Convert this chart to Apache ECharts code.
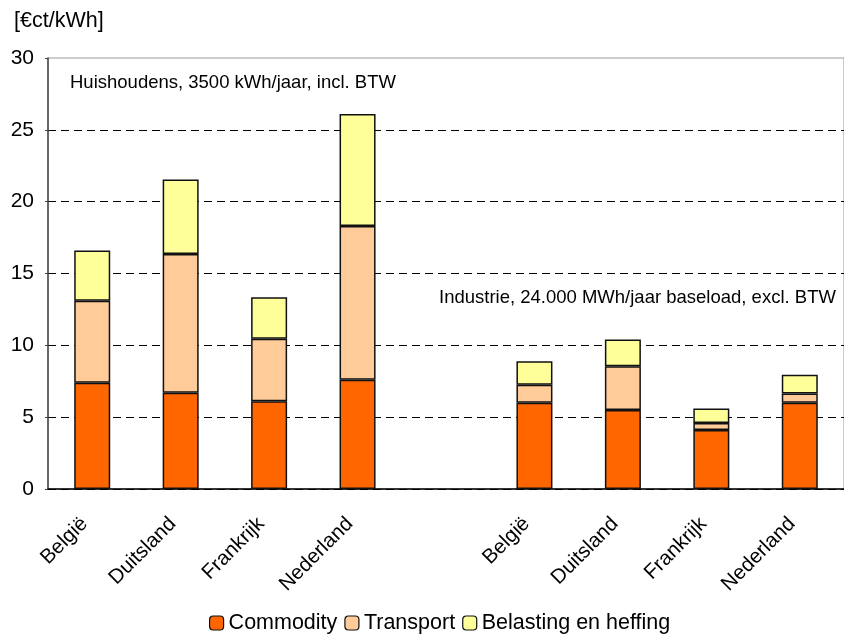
<!DOCTYPE html>
<html>
<head>
<meta charset="utf-8">
<script src="https://cdn.jsdelivr.net/npm/echarts@6/dist/echarts.min.js"></script>
<style>html,body{margin:0;padding:0;background:#fff}#c{width:844px;height:635px}</style>
</head>
<body>
<div id="c"></div>
<script>
const categories = ['België', 'Duitsland', 'Frankrijk', 'Nederland', '', 'België', 'Duitsland', 'Frankrijk', 'Nederland'];
const commodity = [7.4, 6.7, 6.1, 7.6, null, 6.0, 5.5, 4.1, 6.0];
const transport = [5.7, 9.65, 4.35, 10.7, null, 1.25, 3.05, 0.5, 0.65];
const belasting = [3.5, 5.2, 2.9, 7.8, null, 1.65, 1.85, 1.0, 1.3];
const seriesNames = ['Commodity', 'Transport', 'Belasting en heffing'];
const yTicks = { min: 0, max: 30, interval: 5 };
const unitLabel = '[€ct/kWh]';
const noteHouse = 'Huishoudens, 3500 kWh/jaar, incl. BTW';
const noteIndustry = 'Industrie, 24.000 MWh/jaar baseload, excl. BTW';

const font = 'Liberation Sans, Arial, sans-serif';
const colors = ['#FF6600', '#FFCC99', '#FFFF99'];
const chart = echarts.init(document.getElementById('c'));
const mk = (name, data, i) => ({
  name, type: 'bar', stack: 'a', data, barWidth: 36,
  itemStyle: { color: colors[i], borderColor: '#111', borderWidth: 1.5 },
  emphasis: { disabled: true }
});
chart.setOption({
  animation: false,
  textStyle: { fontFamily: font },
  grid: { left: 48, top: 58, width: 804, height: 431, show: true, borderColor: '#999', borderWidth: 1, containLabel: false },
  legend: {
    top: 607, left: 204, itemWidth: 14, itemHeight: 14, itemGap: 7,
    textStyle: { fontSize: 21.5, color: '#000', fontFamily: font, padding: [0, 0, 0, 0] },
    data: seriesNames.map((n, i) => ({ name: n, itemStyle: { color: colors[i], borderColor: '#111', borderWidth: 1.2 } }))
  },
  xAxis: {
    type: 'category', data: categories,
    axisLine: { lineStyle: { color: '#000', width: 1.5 } },
    axisTick: { inside: true, length: 6, lineStyle: { color: '#777' } },
    axisLabel: { rotate: 45, fontSize: 20.5, color: '#000', margin: 24, padding: [0, 11, 0, 0], interval: 0, fontFamily: font }
  },
  yAxis: {
    type: 'value', min: yTicks.min, max: yTicks.max, interval: yTicks.interval,
    axisLine: { show: true, lineStyle: { color: '#444', width: 1.5 } },
    axisTick: { show: true, length: 3, lineStyle: { color: '#444' } },
    axisLabel: { fontSize: 21, color: '#000', margin: 14, fontFamily: font },
    splitLine: { show: true, showMaxLine: false, lineStyle: { color: '#000', type: [8, 5], width: 1 } }
  },
  graphic: [
    { type: 'text', left: 14, top: 10, style: { text: unitLabel, fontSize: 21.5, fill: '#000', fontFamily: font } },
    { type: 'text', left: 70, top: 73, style: { text: noteHouse, fontSize: 18.5, fill: '#000', fontFamily: font } },
    { type: 'text', left: 439, top: 288, style: { text: noteIndustry, fontSize: 18.5, fill: '#000', fontFamily: font } }
  ],
  series: [mk(seriesNames[0], commodity, 0), mk(seriesNames[1], transport, 1), mk(seriesNames[2], belasting, 2)]
});
</script>
</body>
</html>
